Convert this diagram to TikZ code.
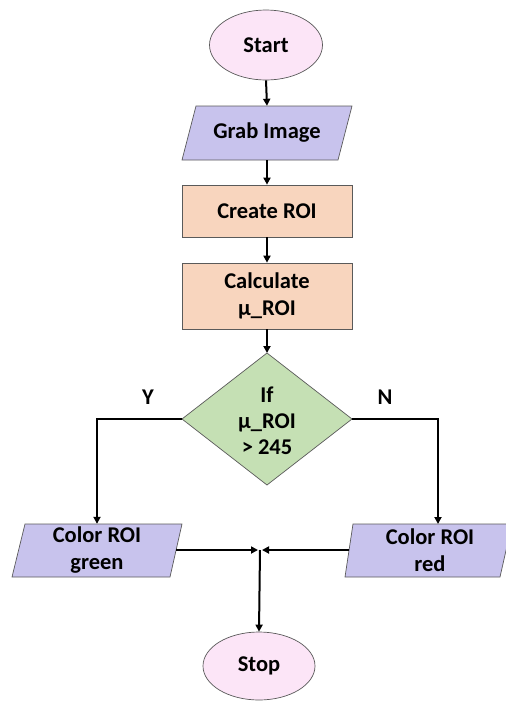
\documentclass[tikz,border=0pt]{standalone}
\usepackage{fontspec}
\setmainfont{Carlito}
\usetikzlibrary{shapes.geometric,arrows.meta}
\definecolor{pinkf}{HTML}{FCE5F7}
\definecolor{lavf}{HTML}{C8C3ED}
\definecolor{peachf}{HTML}{F8D5BE}
\definecolor{greenf}{HTML}{C5E0B4}
\definecolor{edgegray}{HTML}{5A5A5A}
\tikzset{
  txt/.style={font=\fontsize{22.5}{27}\selectfont\bfseries, align=center, inner sep=0pt},
  term/.style={txt, ellipse, draw=edgegray, line width=0.7pt, fill=pinkf},
  procbox/.style={txt, rectangle, draw=edgegray, line width=0.7pt, fill=peachf},
  para/.style={draw=edgegray, line width=0.7pt, fill=lavf},
  decide/.style={draw=edgegray, line width=0.7pt, fill=greenf},
  conn/.style={line width=2pt, -{Triangle[length=7pt,width=7pt]}},
  plain/.style={line width=2pt}
}
\begin{document}
\begin{tikzpicture}[x=1pt,y=-1pt]
\useasboundingbox (0,0) rectangle (506,702);
% Start
\node[term, minimum width=113, minimum height=70] (start) at (266,45) {Start};
% Grab image
\filldraw[para] (182,160) -- (338,160) -- (352,106) -- (196,106) -- cycle;
\node[txt, minimum width=170, minimum height=54] (grab) at (267,133) {Grab Image};
% Create ROI
\node[procbox, minimum width=170, minimum height=52] (create) at (267,211) {Create ROI};
% Calculate
\node[procbox, minimum width=170, minimum height=66] (calc) at (267,296) {Calculate\\µ\_ROI};
% Decision
\filldraw[decide] (267,353) -- (352,419) -- (267,485) -- (182,419) -- cycle;
\coordinate (dtop) at (267,353);
\coordinate (dleft) at (182,419);
\coordinate (dright) at (352,419);
\node[txt, font=\fontsize{22.5}{26}\selectfont\bfseries] (dec) at (267,421) {If\\µ\_ROI\\> 245};
\node[txt] (ylab) at (148,397) {Y};
\node[txt] (nlab) at (385,397) {N};
% Color ROI green
\filldraw[para] (12,577) -- (170,577) -- (182,524) -- (25,524) -- cycle;
\node[txt, minimum width=170, minimum height=53] (green) at (97,550.5) {Color ROI\\green};
% Color ROI red
\filldraw[para] (345,577) -- (500,577) -- (512,524) -- (353,524) -- cycle;
\node[txt, minimum width=160, minimum height=53] (red) at (430,550.5) {Color ROI\\red};
% Stop
\node[term, minimum width=112, minimum height=68] (stop) at (259,666) {Stop};
% junction
\coordinate (jl) at (258,550);
\coordinate (jr) at (262,550);
\coordinate (jc) at (260,550);
% connectors
\draw[conn] (start.south) -- (grab.north);
\draw[conn] (grab.south) -- (create.north);
\draw[conn] (create.south) -- (calc.north);
\draw[conn] (calc.south) -- (dtop);
\draw[conn] (dleft) -| (green.north);
\draw[conn] (dright) -| (438,524);
\draw[conn] (176,550) -- (jl);
\draw[conn] (349,550) -- (jr);
\draw[conn] (jc) -- (stop.north);
\end{tikzpicture}
\end{document}
